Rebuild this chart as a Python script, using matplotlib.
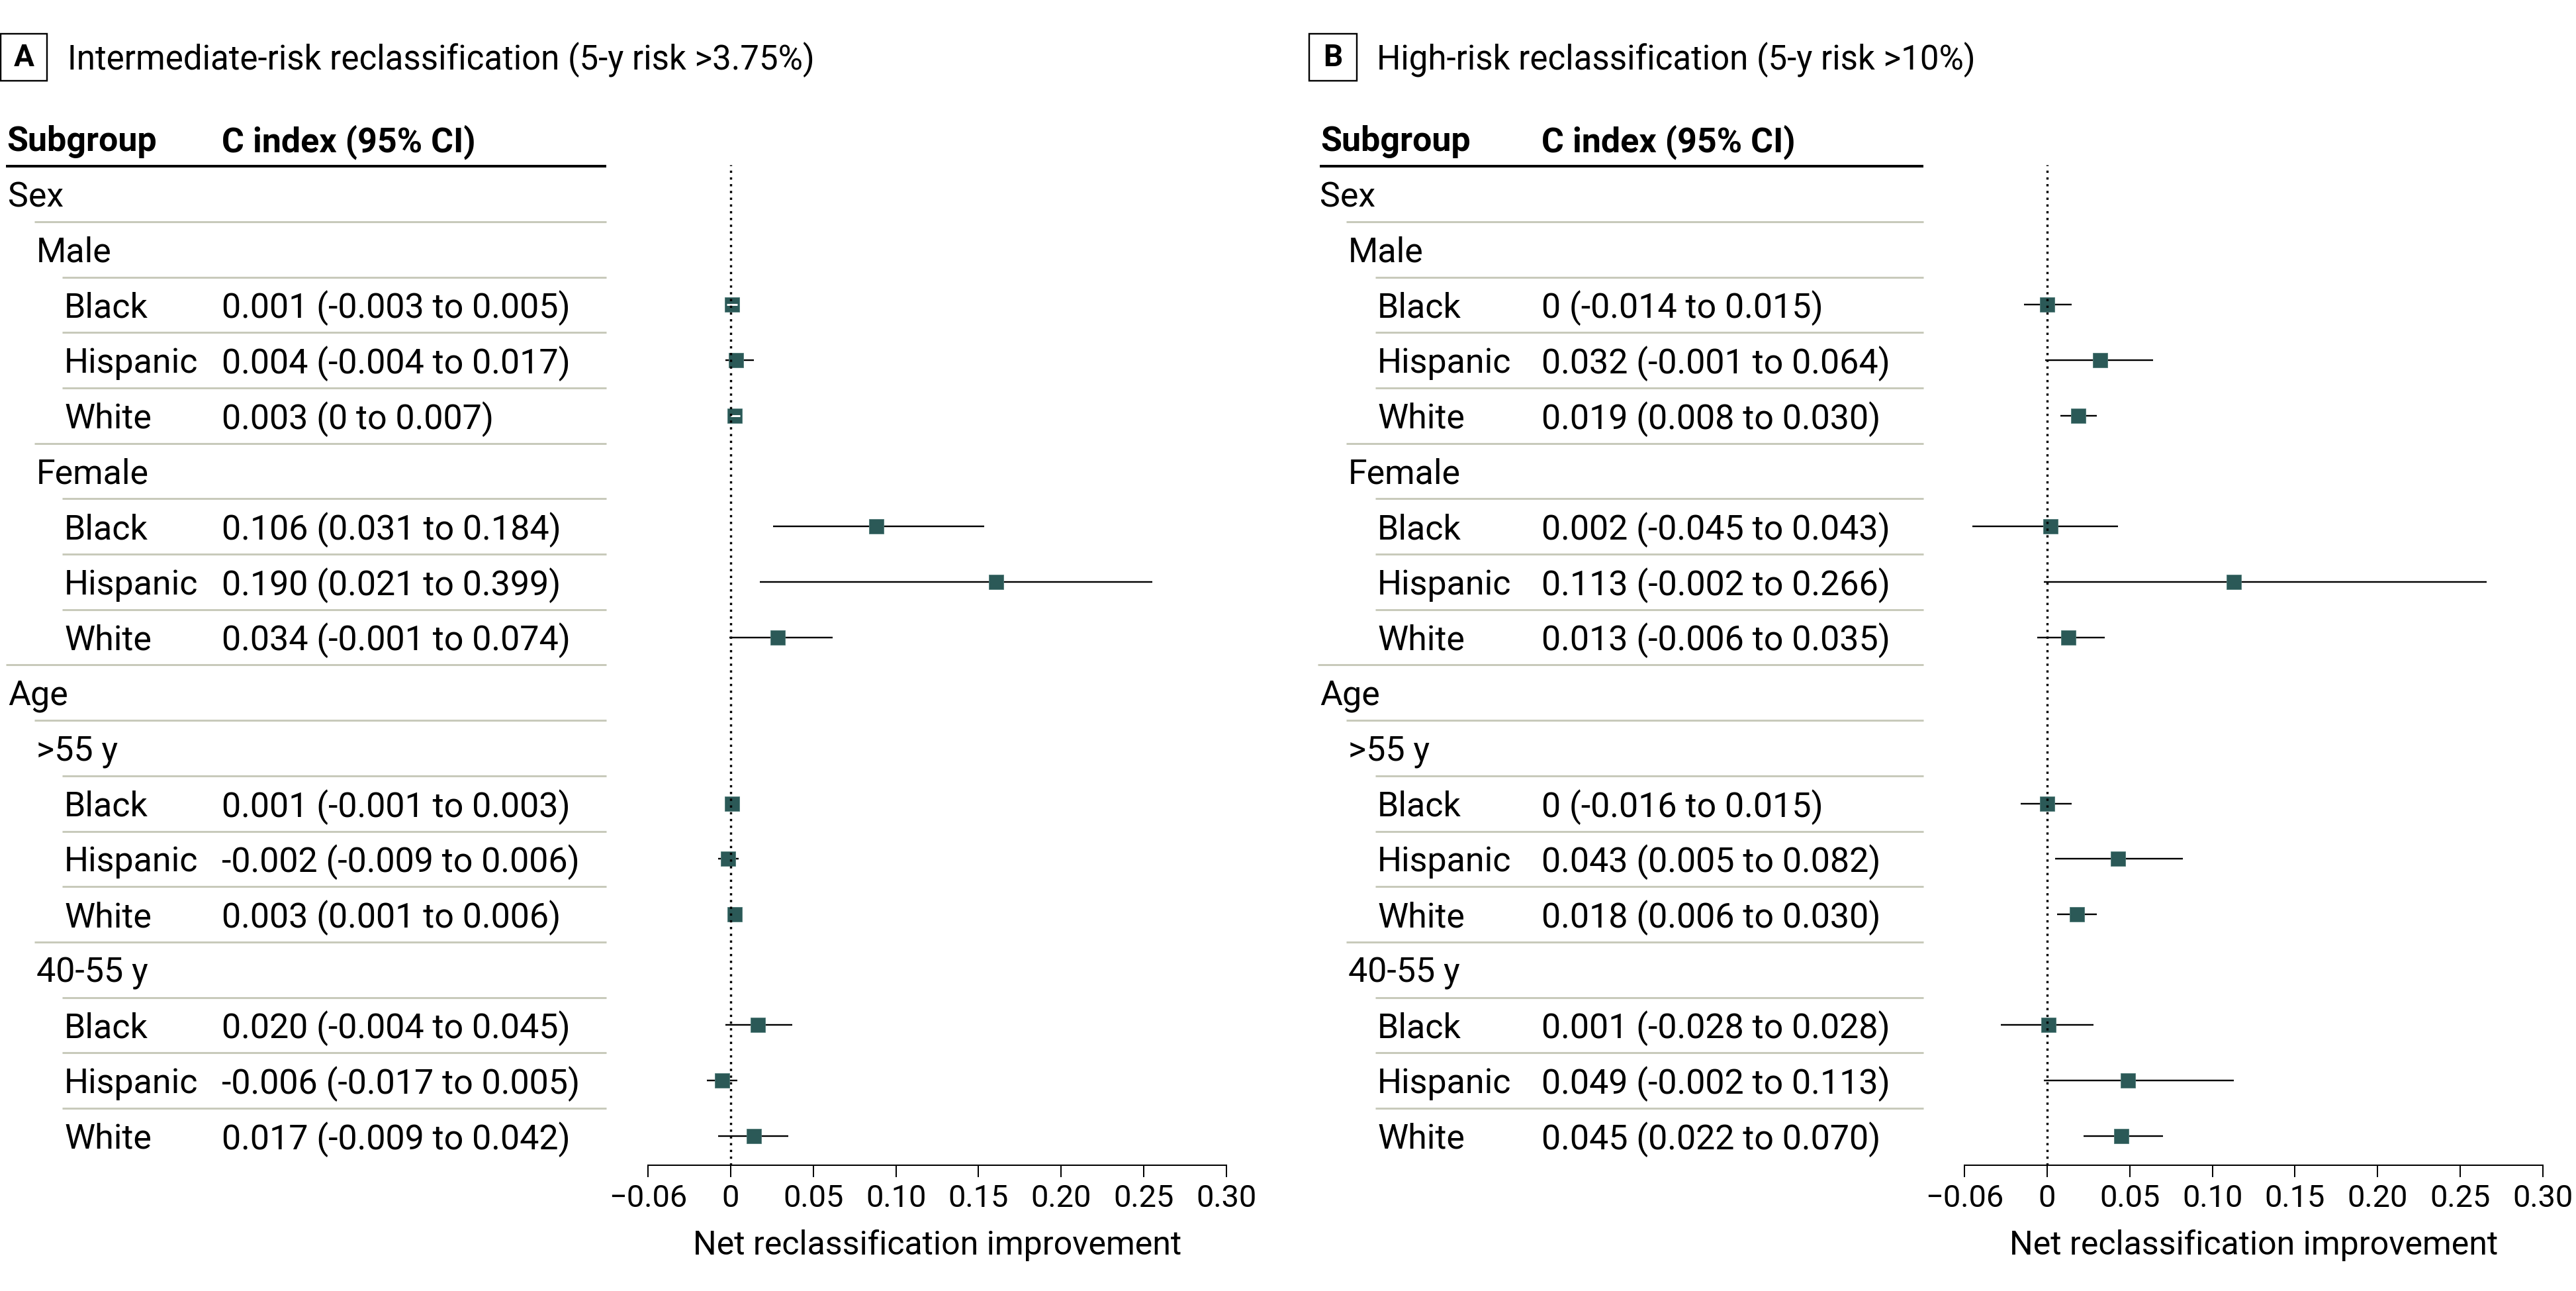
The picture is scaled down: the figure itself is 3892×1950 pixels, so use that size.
import numpy as np
import matplotlib
matplotlib.use("Agg")
import matplotlib.pyplot as plt
import matplotlib.transforms as mtransforms
from matplotlib.patches import Rectangle

plt.rcParams['font.family'] = ['Roboto', 'DejaVu Sans']

W, H = 3892, 1950

# ---- data ----
subgroups = ["Sex", "Male", "Black", "Hispanic", "White", "Female", "Black", "Hispanic", "White",
             "Age", ">55 y", "Black", "Hispanic", "White", "40-55 y", "Black", "Hispanic", "White"]
levels = [0, 1, 2, 2, 2, 1, 2, 2, 2, 0, 1, 2, 2, 2, 1, 2, 2, 2]

labels_a = ["", "", "0.001 (-0.003 to 0.005)", "0.004 (-0.004 to 0.017)", "0.003 (0 to 0.007)",
            "", "0.106 (0.031 to 0.184)", "0.190 (0.021 to 0.399)", "0.034 (-0.001 to 0.074)",
            "", "", "0.001 (-0.001 to 0.003)", "-0.002 (-0.009 to 0.006)", "0.003 (0.001 to 0.006)",
            "", "0.020 (-0.004 to 0.045)", "-0.006 (-0.017 to 0.005)", "0.017 (-0.009 to 0.042)"]
nan = np.nan
est_a = [nan, nan, 0.001, 0.004, 0.003, nan, 0.106, 0.193, 0.034,
         nan, nan, 0.001, -0.002, 0.003, nan, 0.020, -0.006, 0.017]
lo_a = [nan, nan, -0.003, -0.004, 0.0, nan, 0.031, 0.021, -0.001,
        nan, nan, -0.001, -0.009, 0.001, nan, -0.004, -0.017, -0.009]
hi_a = [nan, nan, 0.005, 0.017, 0.007, nan, 0.184, 0.306, 0.074,
        nan, nan, 0.003, 0.006, 0.006, nan, 0.045, 0.005, 0.042]

labels_b = ["", "", "0 (-0.014 to 0.015)", "0.032 (-0.001 to 0.064)", "0.019 (0.008 to 0.030)",
            "", "0.002 (-0.045 to 0.043)", "0.113 (-0.002 to 0.266)", "0.013 (-0.006 to 0.035)",
            "", "", "0 (-0.016 to 0.015)", "0.043 (0.005 to 0.082)", "0.018 (0.006 to 0.030)",
            "", "0.001 (-0.028 to 0.028)", "0.049 (-0.002 to 0.113)", "0.045 (0.022 to 0.070)"]
est_b = [nan, nan, 0.0, 0.032, 0.019, nan, 0.002, 0.113, 0.013,
         nan, nan, 0.0, 0.043, 0.018, nan, 0.001, 0.049, 0.045]
lo_b = [nan, nan, -0.014, -0.001, 0.008, nan, -0.045, -0.002, -0.006,
        nan, nan, -0.016, 0.005, 0.006, nan, -0.028, -0.002, 0.022]
hi_b = [nan, nan, 0.015, 0.064, 0.030, nan, 0.043, 0.266, 0.035,
        nan, nan, 0.015, 0.082, 0.030, nan, 0.028, 0.113, 0.070]

tick_labels = ["−0.06", "0", "0.05", "0.10", "0.15", "0.20", "0.25", "0.30"]
ticks_a = np.arange(8) * 0.06 - 0.06
ticks_b = np.arange(8) * 0.05 - 0.05

titles = ["Intermediate-risk reclassification (5-y risk >3.75%)",
          "High-risk reclassification (5-y risk >10%)"]
letters = ["A", "B"]

# ---- style ----
SQ = "#2b5957"
SEP = "#c8cabb"
PT = 0.72  # points per pixel at dpi 100
FS = 52 * PT
DY = 0.06  # text nudged down a little inside each row

fig = plt.figure(figsize=(W / 100, H / 100), dpi=100)


def fx(x):
    return x / W


def fy(y):
    return 1 - y / H


row0, row_h = 293, 83.7
ax_top, ax_bot = 249, 1760

panels = [
    dict(ax_x=(979, 1853), xlim=(-0.06, 0.36), ticks=ticks_a, labels=labels_a, est=est_a, lo=lo_a, hi=hi_a,
         box=(1, 51, 70, 71), title_x=102, lvl_x=[12, 55, 97], col_x=335, line_x=(9, 916)),
    dict(ax_x=(2968, 3842), xlim=(-0.05, 0.30), ticks=ticks_b, labels=labels_b, est=est_b, lo=lo_b, hi=hi_b,
         box=(1978, 51, 72, 71), title_x=2080, lvl_x=[1994, 2037, 2081], col_x=2329, line_x=(1994, 2906)),
]

for k, p in enumerate(panels):
    x0, x1 = p["ax_x"]
    ax = fig.add_axes([fx(x0), fy(ax_bot), (x1 - x0) / W, (ax_bot - ax_top) / H])
    ylo = (ax_bot - row0) / row_h
    yhi = (ax_top - row0) / row_h
    ax.set_ylim(ylo, yhi)
    ax.set_xlim(*p["xlim"])
    for s in ["top", "right", "left"]:
        ax.spines[s].set_visible(False)
    ax.spines["bottom"].set_linewidth(2 * PT)
    ax.set_yticks([])
    ax.set_xticks(p["ticks"])
    ax.set_xticklabels(tick_labels, fontsize=47 * PT)
    ax.tick_params(axis="x", direction="out", length=18 * PT, width=2 * PT, pad=7)
    ax.set_xlabel("Net reclassification improvement", fontsize=50 * PT, labelpad=18)
    ax.patch.set_alpha(0)

    rows = np.arange(len(subgroups))
    est = np.array(p["est"])
    lo = np.array(p["lo"])
    hi = np.array(p["hi"])
    ok = ~np.isnan(est)

    # CI lines
    ax.hlines(rows[ok], lo[ok], hi[ok], color="black", lw=2.4 * PT, zorder=2)
    # squares
    ax.plot(est[ok], rows[ok], "s", color=SQ, ms=23 * PT, mec="#4f7a77", mew=0.6, zorder=3)
    # CI fully inside the square: drawn in white
    half = 11.5 / ((x1 - x0) / (p["xlim"][1] - p["xlim"][0]))
    inside = ok & (lo > est - half) & (hi < est + half) & (hi - lo > 0.0055)
    ax.hlines(rows[inside], lo[inside], hi[inside], color="white", lw=3 * PT, zorder=4)
    # reference line
    ax.axvline(0, color="black", lw=3.4 * PT, linestyle=(0, (1, 2)), zorder=5)

    # table
    tr = mtransforms.blended_transform_factory(fig.transFigure, ax.transData)
    lx0, lx1 = p["line_x"]
    ax.text(fx(lx0 + 1), -1 + DY, "Subgroup", transform=tr, fontsize=FS, fontweight="bold",
            va="center", ha="left", clip_on=False)
    ax.text(fx(p["col_x"]), -1 + DY, "C index (95% CI)", transform=tr, fontsize=FS, fontweight="bold",
            va="center", ha="left", clip_on=False)
    ax.plot([fx(lx0), fx(lx1)], [-0.5, -0.5], transform=tr, color="black", lw=4 * PT,
            clip_on=False, solid_capstyle="butt")
    for i, name in enumerate(subgroups):
        lv = levels[i]
        ax.text(fx(p["lvl_x"][lv]), i + DY, name, transform=tr, fontsize=FS, va="center",
                ha="left", clip_on=False)
        if p["labels"][i]:
            ax.text(fx(p["col_x"]), i + DY, p["labels"][i], transform=tr, fontsize=FS,
                    va="center", ha="left", clip_on=False)
        if i > 0:
            ax.plot([fx(p["lvl_x"][lv] - 3), fx(lx1)], [i - 0.5, i - 0.5], transform=tr,
                    color=SEP, lw=3 * PT, clip_on=False, solid_capstyle="butt")

    # panel letter and title
    bx, by, bw, bh = p["box"]
    fig.patches.append(Rectangle((fx(bx), fy(by + bh)), bw / W, bh / H, transform=fig.transFigure,
                                 fill=False, edgecolor="black", lw=2.4 * PT))
    fig.text(fx(bx + bw / 2), fy(by + bh / 2), letters[k], fontsize=46 * PT, fontweight="bold",
             ha="center", va="center")
    fig.text(fx(p["title_x"]), fy(by + bh / 2 + 4), titles[k], fontsize=51 * PT,
             ha="left", va="center")

fig.savefig("out.png", dpi=100, facecolor="white")
